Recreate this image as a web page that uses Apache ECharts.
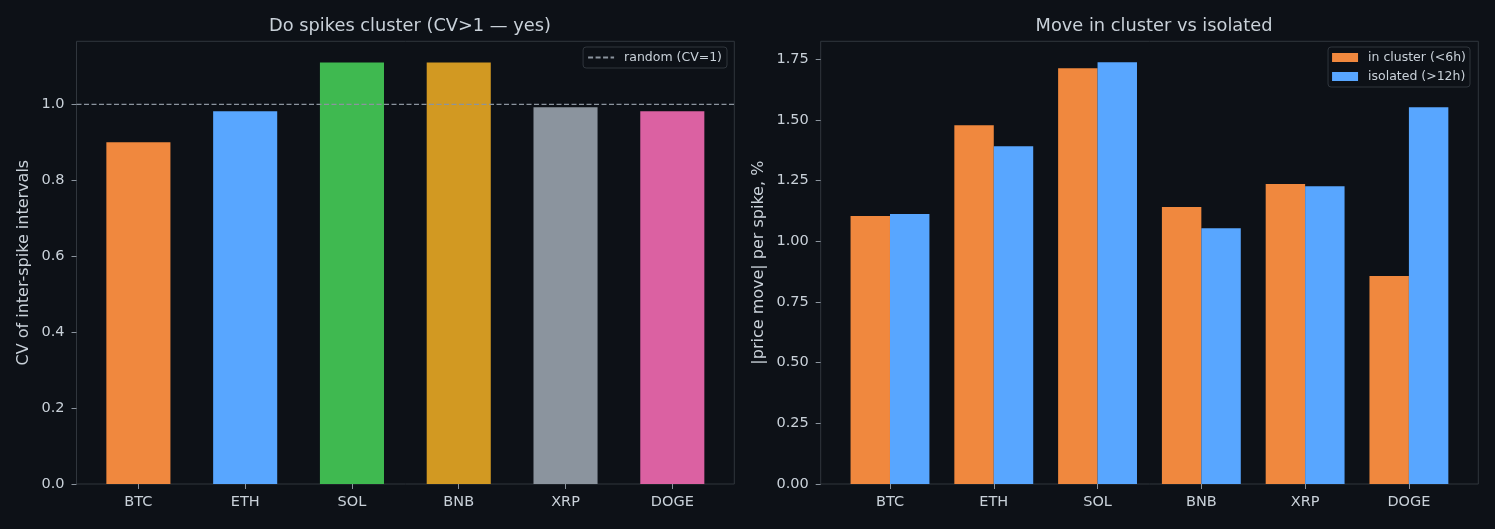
<!DOCTYPE html>
<html>
<head>
<meta charset="utf-8">
<script src="https://cdn.jsdelivr.net/npm/echarts@6/dist/echarts.min.js"></script>
<style>
  html, body { margin: 0; padding: 0; background: #0d1117; }
  #chart { width: 1495px; height: 529px; }
</style>
</head>
<body>
<div id="chart"></div>
<script>
// data
const coins = ["BTC", "ETH", "SOL", "BNB", "XRP", "DOGE"];
const cvValues = [0.90, 0.982, 1.11, 1.11, 0.992, 0.982];
const cvColors = ["#f0883e", "#58a6ff", "#3fb950", "#d29922", "#8b949e", "#db61a2"];
const randomCV = 1;
const clusterMove = [1.104, 1.478, 1.713, 1.141, 1.236, 0.857];
const isolatedMove = [1.112, 1.392, 1.738, 1.054, 1.227, 1.552];
const leftTicks = [0, 0.2, 0.4, 0.6, 0.8, 1.0];
const rightTicks = [0, 0.25, 0.5, 0.75, 1.0, 1.25, 1.5, 1.75];

const textColor = "#c9d1d9";
const tickColor = "#8b949e";
const frameColor = "#30363d";
const font = "'DejaVu Sans', sans-serif";

const leftMax = 1.166;
const rightMax = 1.824;

// frame grid shows border + y labels, data grid holds the bars
function frameY(max, ticks, name, gap, fmt) {
  return {
    type: "value", min: 0, max: max,
    name: name, nameLocation: "middle", nameGap: gap, nameRotate: 90,
    nameTextStyle: { color: textColor, fontSize: 16, fontFamily: font },
    axisLine: { show: false },
    splitLine: { show: false },
    axisTick: { show: true, length: 5, lineStyle: { color: tickColor }, customValues: ticks },
    axisLabel: { color: textColor, fontSize: 14.5, fontFamily: font, margin: 12,
      customValues: ticks, formatter: v => v.toFixed(fmt) }
  };
}
function hiddenY(max) {
  return { type: "value", min: 0, max: max, show: false, splitLine: { show: false } };
}
function catX(gridIndex) {
  return {
    type: "category", gridIndex: gridIndex, data: coins,
    axisLine: { show: false },
    axisTick: { show: true, alignWithLabel: true, length: 5, lineStyle: { color: tickColor } },
    axisLabel: { color: textColor, fontSize: 14.5, fontFamily: font, margin: 11 }
  };
}

const chart = echarts.init(document.getElementById("chart"));
chart.setOption({
  backgroundColor: "#0d1117",
  animation: false,
  title: [
    { text: "Do spikes cluster (CV>1 — yes)", left: 405, top: 12, textAlign: "center",
      textStyle: { color: textColor, fontSize: 17.8, fontWeight: "normal", fontFamily: font } },
    { text: "Move in cluster vs isolated", left: 1149, top: 12, textAlign: "center",
      textStyle: { color: textColor, fontSize: 17.8, fontWeight: "normal", fontFamily: font } }
  ],
  legend: [
    { data: ["random (CV=1)"], right: 768, top: 47, padding: [4, 5, 4, 4],
      backgroundColor: "#0d1117", borderColor: frameColor, borderWidth: 1, borderRadius: 3,
      itemWidth: 26, itemHeight: 10,
      itemStyle: { color: "transparent", borderColor: "transparent", borderWidth: 0 },
      textStyle: { color: textColor, fontSize: 12.5, fontFamily: font, padding: [0, 0, 0, 5] } },
    { data: [{ name: "in cluster (<6h)", icon: "rect" }, { name: "isolated (>12h)", icon: "rect" }],
      orient: "vertical", right: 25, top: 47,
      padding: [4, 4, 4, 4], itemGap: 6, align: "left",
      backgroundColor: "#0d1117", borderColor: frameColor, borderWidth: 1, borderRadius: 3,
      itemWidth: 26, itemHeight: 9,
      textStyle: { color: textColor, fontSize: 12.5, fontFamily: font, padding: [0, 0, 0, 5] } }
  ],
  grid: [
    { left: 76.5, top: 41.3, width: 657.8, height: 442.7, show: true, borderColor: frameColor, borderWidth: 1 },
    { left: 85.0, top: 41.3, width: 640.7, height: 442.7 },
    { left: 820.7, top: 41.3, width: 657.6, height: 442.7, show: true, borderColor: frameColor, borderWidth: 1 },
    { left: 838.1, top: 41.3, width: 622.7, height: 442.7 }
  ],
  xAxis: [
    { type: "value", gridIndex: 0, min: 0, max: 1, show: false, splitLine: { show: false } },
    catX(1),
    { type: "value", gridIndex: 2, min: 0, max: 1, show: false, splitLine: { show: false } },
    catX(3)
  ],
  yAxis: [
    Object.assign(frameY(leftMax, leftTicks, "CV of inter-spike intervals", 45, 1), { gridIndex: 0 }),
    Object.assign(hiddenY(leftMax), { gridIndex: 1 }),
    Object.assign(frameY(rightMax, rightTicks, "|price move| per spike, %", 54, 2), { gridIndex: 2 }),
    Object.assign(hiddenY(rightMax), { gridIndex: 3 })
  ],
  series: [
    {
      type: "bar", xAxisIndex: 1, yAxisIndex: 1, barWidth: "60%",
      data: cvValues.map((v, i) => ({ value: v, itemStyle: { color: cvColors[i] } }))
    },
    {
      name: "random (CV=1)", type: "line", xAxisIndex: 0, yAxisIndex: 0,
      symbol: "none", z: 5,
      lineStyle: { color: tickColor, width: 1.3, type: [5, 2.5] },
      itemStyle: { color: tickColor },
      data: [[0, randomCV], [1, randomCV]]
    },
    {
      name: "in cluster (<6h)", type: "bar", xAxisIndex: 3, yAxisIndex: 3,
      barWidth: "38%", barGap: "0%", itemStyle: { color: "#f0883e" }, data: clusterMove
    },
    {
      name: "isolated (>12h)", type: "bar", xAxisIndex: 3, yAxisIndex: 3,
      barWidth: "38%", barGap: "0%", itemStyle: { color: "#58a6ff" }, data: isolatedMove
    }
  ]
});
</script>
</body>
</html>
